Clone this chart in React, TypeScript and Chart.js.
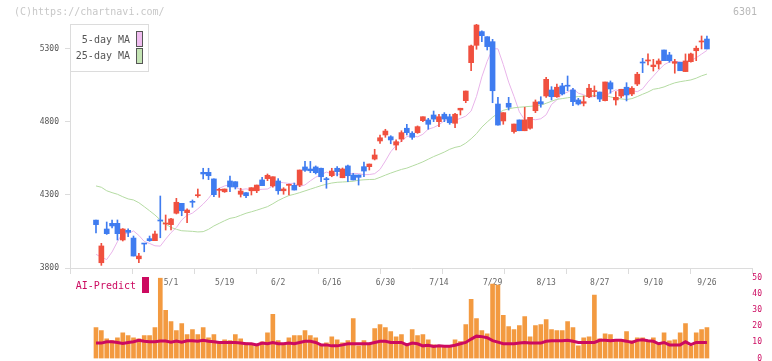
import React, { useEffect, useRef } from 'react';
import { Chart, registerables } from 'chart.js';
Chart.register(...registerables);

// ---------- data ----------
const opens = [4128,3836,4067,4106,4106,3992,4058,4005,3863,3969,4001,3987,4129,4101,4097,4175,4243,4179,4254,4295,
  4455,4455,4410,4332,4322,4396,4391,4305,4316,4329,4329,4403,4412,4362,4396,4329,4366,4366,4368,4492,
  4478,4492,4483,4410,4432,4483,4418,4499,4437,4437,4494,4494,4546,4670,4711,4699,4642,4683,4757,4723,
  4727,4809,4814,4848,4802,4853,4836,4791,4882,4946,5206,5325,5419,5384,5350,4923,4807,4928,4734,4814,
  4740,4757,4877,4939,4978,5019,4973,5047,5049,5019,4951,4928,4973,5008,5005,4946,5069,4951,4978,5038,
  4992,5060,5208,5218,5179,5197,5293,5259,5202,5209,5145,5213,5288,5348,5368];
const highs = [4128,3969,4115,4129,4129,4070,4069,4019,3900,3969,4019,4053,4293,4163,4140,4277,4243,4206,4266,4341,
  4483,4483,4410,4346,4341,4430,4391,4346,4316,4350,4368,4421,4444,4425,4412,4350,4375,4382,4471,4530,
  4530,4499,4485,4421,4483,4494,4485,4505,4448,4437,4526,4512,4613,4711,4750,4706,4677,4740,4784,4734,
  4773,4836,4825,4875,4853,4864,4853,4859,4894,5012,5327,5469,5425,5384,5366,4969,4864,4969,4786,4814,
  4901,4832,4951,4973,5106,5042,5060,5065,5115,5031,4962,4978,5058,5047,5005,5074,5081,5008,5024,5069,
  5042,5140,5236,5266,5229,5232,5293,5277,5229,5209,5266,5271,5320,5389,5389];
const lows = [4040,3818,4030,4074,3992,3985,4015,3882,3836,3911,3983,3987,4007,4060,4060,4170,4158,4110,4216,4284,
  4410,4405,4288,4284,4318,4322,4341,4286,4282,4300,4316,4364,4398,4353,4305,4305,4300,4334,4357,4462,
  4453,4444,4391,4346,4425,4430,4418,4391,4403,4368,4425,4471,4540,4654,4695,4651,4608,4665,4711,4681,
  4722,4802,4750,4802,4768,4802,4784,4761,4848,4932,5151,5298,5350,5293,4932,4779,4784,4882,4723,4740,
  4740,4750,4864,4901,4969,4951,4969,4985,5014,4912,4916,4910,4966,4973,4939,4944,4997,4916,4966,4944,
  4980,5049,5138,5190,5149,5163,5220,5209,5134,5151,5145,5209,5220,5300,5300];
const closes = [4097,3951,4035,4088,4035,4067,4044,3882,3882,3964,3987,4033,4122,4105,4136,4250,4192,4197,4250,4300,
  4444,4432,4302,4334,4341,4355,4355,4327,4295,4350,4368,4364,4435,4425,4329,4341,4368,4334,4471,4469,
  4466,4453,4425,4405,4464,4460,4478,4432,4403,4421,4464,4512,4574,4692,4738,4677,4665,4727,4727,4695,
  4768,4836,4784,4820,4836,4820,4795,4853,4894,5012,5321,5464,5391,5316,5014,4779,4864,4901,4786,4740,
  4814,4832,4937,4923,5092,4973,5038,4992,5045,4939,4923,4939,5031,5012,4957,5074,5026,4969,5024,4985,
  5031,5127,5204,5222,5190,5218,5220,5220,5213,5151,5218,5266,5305,5352,5300];
const ma5 = [3894,3873,3858,3910,3980,4041,4035,4054,4023,3982,3968,3952,3950,3998,4042,4077,4129,4161,4176,4205,
  4238,4277,4325,4346,4362,4371,4353,4337,4342,4335,4336,4339,4341,4362,4388,4384,4379,4380,4359,4369,
  4397,4422,4439,4457,4444,4443,4441,4446,4448,4447,4439,4440,4446,4475,4533,4596,4639,4669,4700,4707,
  4698,4716,4751,4762,4781,4809,4819,4811,4825,4840,4875,4975,5109,5216,5301,5301,5193,5073,4975,4869,
  4814,4821,4815,4822,4849,4920,4951,4993,5004,5028,4997,4987,4968,4975,4969,4972,5003,5020,5008,5010,
  5016,5007,5027,5074,5114,5155,5192,5211,5214,5212,5204,5220,5240,5265,5290];
const ma25 = [4362,4353,4329,4316,4305,4288,4273,4266,4247,4220,4192,4163,4129,4101,4078,4065,4055,4053,4051,4047,
  4049,4065,4088,4106,4124,4140,4147,4161,4175,4185,4196,4208,4220,4240,4262,4280,4296,4305,4316,4328,
  4340,4352,4364,4374,4382,4387,4389,4391,4394,4401,4404,4406,4407,4421,4436,4450,4463,4475,4484,4498,
  4512,4527,4545,4563,4578,4594,4613,4626,4634,4655,4685,4720,4765,4800,4832,4860,4880,4890,4897,4901,
  4904,4907,4910,4915,4928,4942,4955,4960,4966,4970,4974,4977,4978,4981,4984,4982,4972,4963,4958,4954,
  4960,4974,4990,5005,5024,5030,5040,5055,5068,5076,5082,5088,5100,5116,5128];
const volume = [19.1,17.2,12.2,11.0,12.8,15.9,14.1,12.8,12.2,14.1,14.1,19.1,49.7,29.7,22.8,17.2,21.6,14.7,17.8,14.7,
  19.1,12.8,14.7,10.3,11.6,11.0,14.7,12.2,9.7,9.1,8.5,10.3,15.9,27.2,11.0,9.1,12.8,14.1,14.1,17.2,
  14.1,12.8,7.8,9.7,13.4,11.6,9.7,11.0,24.7,7.8,11.0,9.1,18.4,20.9,19.1,16.6,13.4,14.7,9.1,17.8,
  14.1,14.7,11.6,8.5,7.8,7.8,7.8,11.6,10.5,20.9,36.6,24.7,17.2,15.3,45.9,45.3,26.6,19.7,17.8,20.3,
  25.9,13.4,20.3,20.9,24.1,17.8,17.2,17.2,22.8,19.1,7.8,12.8,13.4,39.1,12.2,15.3,14.7,11.6,11.6,16.6,
  10.9,12.8,12.8,10.9,12.8,9.1,15.9,10.9,11.6,15.9,21.6,7.8,15.9,17.8,19.1];
const aiPredict = [9.5,9.5,10.3,10.3,9.9,9.3,9.9,10.3,11.2,10.6,10.3,10.3,10.8,10.8,10.1,10.8,10.1,11.0,11.0,10.6,
  11.2,10.6,10.3,9.9,9.9,9.9,9.9,9.5,9.1,9.1,8.4,9.5,9.1,9.9,9.1,9.1,9.5,9.1,9.9,10.6,
  10.6,9.9,8.4,8.4,7.8,7.8,8.4,9.1,9.1,9.1,9.1,9.1,9.9,10.6,10.6,9.9,9.9,9.9,8.4,9.5,
  9.1,7.8,8.2,7.4,7.8,7.6,7.6,8.2,9.1,9.9,12.0,13.8,13.5,12.8,11.0,10.1,9.1,9.1,9.1,9.5,
  9.9,9.5,9.5,9.5,10.6,11.0,11.0,11.0,11.3,10.6,9.9,9.9,9.9,9.9,11.2,11.3,11.0,11.3,11.3,10.7,
  9.9,11.2,11.6,11.0,10.6,9.1,9.9,8.4,8.4,8.4,10.3,8.6,9.9,9.9,9.9];
const dateTicks = [14, 24, 34, 44, 54, 64, 74, 84, 94, 104, 114];
const dateLabels = ['5/1', '5/19', '6/2', '6/16', '6/30', '7/14', '7/29', '8/13', '8/27', '9/10', '9/26'];
const priceTicks = [3800, 4300, 4800, 5300];
const volumeTicks = [0, 10, 20, 30, 40, 50];
const WATERMARK = '(C)https://chartnavi.com/';
const CODE = '6301';
const MA5_LABEL = '5-day MA';
const MA25_LABEL = '25-day MA';
const AI_LABEL = 'AI-Predict';

// ---------- styling ----------
const MONO = '"DejaVu Sans Mono", monospace';
const RED = '#f0503f';
const BLUE = '#3f7cf0';
const PINK = '#e9b4ea';
const GREEN = '#b4dba2';
const ORANGE = '#f39a40';
const MAGENTA = '#cc0a60';
const X_MIN = -4.85;
const X_MAX = 122.41;

const idx = closes.map((_, i) => i);
const candleColors = idx.map((i) => (closes[i] >= opens[i] ? RED : BLUE));

const noPad = (s: any) => { s.paddingTop = 0; s.paddingBottom = 0; s.paddingLeft = 0; s.paddingRight = 0; };

const priceDecor = {
  id: 'priceDecor',
  afterDraw(chart: any) {
    const ctx = chart.ctx;
    ctx.save();
    ctx.font = '10px ' + MONO;
    ctx.textBaseline = 'middle';
    ctx.textAlign = 'left';
    ctx.fillStyle = '#c8c8c8';
    ctx.fillText(WATERMARK, 14, 12.5);
    ctx.textAlign = 'right';
    ctx.fillStyle = '#b8b8b8';
    ctx.fillText(CODE, 757, 12);
    // legend box
    ctx.fillStyle = '#ffffff';
    ctx.fillRect(70.5, 24.5, 78, 47);
    ctx.strokeStyle = '#dcdcdc';
    ctx.lineWidth = 1;
    ctx.strokeRect(70.5, 24.5, 78, 47);
    ctx.fillStyle = '#555555';
    ctx.textAlign = 'right';
    ctx.fillText(MA5_LABEL, 130, 40);
    ctx.fillText(MA25_LABEL, 130, 56);
    ctx.fillStyle = '#f0bdf0';
    ctx.fillRect(136.5, 31.5, 6, 15);
    ctx.strokeStyle = '#555555';
    ctx.strokeRect(136.5, 31.5, 6, 15);
    ctx.fillStyle = '#c4e4b4';
    ctx.fillRect(136.5, 48.5, 6, 15);
    ctx.strokeRect(136.5, 48.5, 6, 15);
    ctx.restore();
  },
};

const volDecor = {
  id: 'volDecor',
  afterDraw(chart: any) {
    const ctx = chart.ctx;
    ctx.save();
    ctx.font = '10px ' + MONO;
    ctx.textBaseline = 'middle';
    ctx.textAlign = 'right';
    ctx.fillStyle = MAGENTA;
    ctx.fillText(AI_LABEL, 136, 286.5);
    ctx.fillRect(142, 277, 7, 16);
    ctx.restore();
  },
};

export default function App() {
  const priceRef = useRef<HTMLCanvasElement>(null);
  const volRef = useRef<HTMLCanvasElement>(null);

  useEffect(() => {
    const price = new Chart(priceRef.current as HTMLCanvasElement, {
      type: 'bar',
      data: {
        datasets: [
          { type: 'line', label: MA5_LABEL, data: idx.map((i) => ({ x: i, y: ma5[i] })), borderColor: PINK, borderWidth: 1, pointRadius: 0, tension: 0, order: 4 } as any,
          { type: 'line', label: MA25_LABEL, data: idx.map((i) => ({ x: i, y: ma25[i] })), borderColor: GREEN, borderWidth: 1, pointRadius: 0, tension: 0, order: 3 } as any,
          { type: 'bar', label: 'wick', data: idx.map((i) => ({ x: i, y: [lows[i], highs[i]] })), backgroundColor: candleColors, barThickness: 1, grouped: false, order: 2 } as any,
          { type: 'bar', label: 'body', data: idx.map((i) => ({ x: i, y: [opens[i], closes[i]] })), backgroundColor: candleColors, barThickness: 5, minBarLength: 1, grouped: false, order: 1 } as any,
        ],
      },
      options: {
        animation: false,
        responsive: false,
        devicePixelRatio: 1,
        events: [],
        layout: { padding: { top: 24, left: 0, right: 20, bottom: 67 } },
        plugins: { legend: { display: false }, tooltip: { enabled: false } },
        scales: {
          x: {
            type: 'linear', position: 'bottom', min: X_MIN, max: X_MAX, weight: 0, offset: false,
            grid: { drawOnChartArea: false, tickLength: 6, color: '#dcdcdc', offset: false },
            border: { color: '#dcdcdc' },
            ticks: { display: false },
            afterBuildTicks: (s: any) => { s.ticks = Array.from({ length: 12 }, (_, k) => ({ value: X_MIN + (k * (X_MAX - X_MIN)) / 11 })); },
            afterFit: (s: any) => { s.height = 6; noPad(s); },
          },
          xd: {
            type: 'linear', position: 'bottom', min: X_MIN, max: X_MAX, weight: 1, offset: false,
            grid: { display: false, drawTicks: false, tickLength: 0, offset: false },
            border: { display: false },
            ticks: {
              autoSkip: false, maxRotation: 0, padding: 4, color: '#666666', font: { family: MONO, size: 8 },
              callback: (v: any) => { const k = dateTicks.indexOf(v); return k >= 0 ? dateLabels[k] : ''; },
            },
            afterBuildTicks: (s: any) => { s.ticks = dateTicks.map((v) => ({ value: v })); },
            afterFit: (s: any) => { s.height = 20; noPad(s); },
          },
          y: {
            type: 'linear', position: 'left', min: 3800, max: 5471,
            grid: { drawOnChartArea: false, tickLength: 5, color: '#dcdcdc' },
            border: { color: '#dcdcdc' },
            ticks: { padding: 6, color: '#555555', font: { family: MONO, size: 8 }, callback: (v: any) => String(v) },
            afterBuildTicks: (s: any) => { s.ticks = priceTicks.map((v) => ({ value: v })); },
            afterFit: (s: any) => { s.width = 70; noPad(s); },
          },
        },
      } as any,
      plugins: [priceDecor],
    });

    const vol = new Chart(volRef.current as HTMLCanvasElement, {
      type: 'bar',
      data: {
        datasets: [
          { type: 'line', label: AI_LABEL, data: idx.map((i) => ({ x: i, y: aiPredict[i] })), borderColor: MAGENTA, borderWidth: 3, pointRadius: 0, tension: 0, order: 1 } as any,
          { type: 'bar', label: 'Volume', data: idx.map((i) => ({ x: i, y: volume[i] })), backgroundColor: ORANGE, barThickness: 4, order: 2 } as any,
        ],
      },
      options: {
        animation: false,
        responsive: false,
        devicePixelRatio: 1,
        events: [],
        layout: { padding: { top: 277.5, left: 70, right: 10, bottom: 2.5 } },
        plugins: { legend: { display: false }, tooltip: { enabled: false } },
        scales: {
          x: { type: 'linear', display: false, min: X_MIN, max: X_MAX, offset: false, grid: { offset: false } },
          y: {
            type: 'linear', position: 'right', min: 0, max: 50,
            grid: { display: false },
            border: { display: false },
            ticks: { padding: 0, crossAlign: 'far', color: MAGENTA, font: { family: MONO, size: 8 } },
            afterBuildTicks: (s: any) => { s.ticks = volumeTicks.map((v) => ({ value: v })); },
            afterFit: (s: any) => { s.width = 10; noPad(s); },
          },
        },
      } as any,
      plugins: [volDecor],
    });

    return () => { price.destroy(); vol.destroy(); };
  }, []);

  return (
    <div style={{ position: 'absolute', left: 0, top: 0, width: 772, height: 361, background: '#ffffff' }}>
      <canvas ref={priceRef} width={772} height={361} style={{ position: 'absolute', left: 0, top: 0, display: 'block' }} />
      <canvas ref={volRef} width={772} height={361} style={{ position: 'absolute', left: 0, top: 0, display: 'block' }} />
    </div>
  );
}
